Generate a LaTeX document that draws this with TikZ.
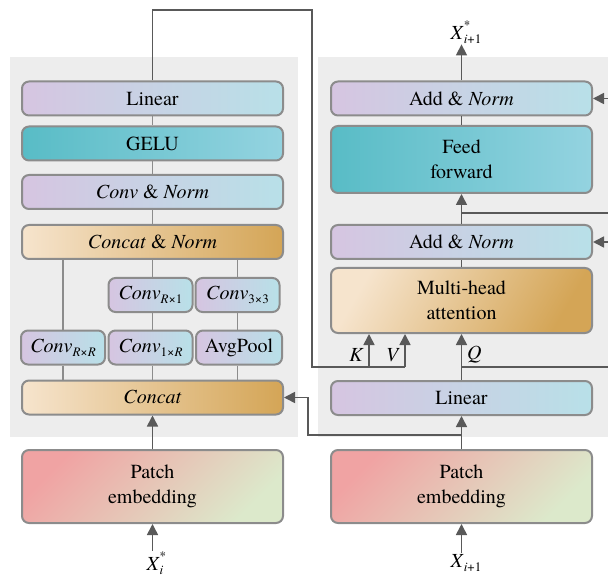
\documentclass[tikz,border=0pt]{standalone}
\usepackage{fontspec}
\setmainfont{texgyretermes}[Extension=.otf,UprightFont=*-regular,ItalicFont=*-italic,BoldFont=*-bold,BoldItalicFont=*-bolditalic]
\usetikzlibrary{arrows.meta,positioning,calc}

\definecolor{panelgray}{HTML}{EDEDED}
\definecolor{boxline}{HTML}{8C8C8C}
\definecolor{wireline}{HTML}{595959}
\definecolor{lilac}{HTML}{D6C5E1}
\definecolor{icecyan}{HTML}{B8E0E8}
\definecolor{tealdark}{HTML}{58BCC6}
\definecolor{teallight}{HTML}{94D3E0}
\definecolor{cream}{HTML}{F6E4CD}
\definecolor{gold}{HTML}{D4A556}
\definecolor{rosy}{HTML}{F0A3A3}
\definecolor{sage}{HTML}{DCE9CB}

\newcommand{\smallidx}{\fontsize{13}{13}\selectfont}
\newcommand{\supsub}[2]{\rlap{\raisebox{1.05ex}{\smallidx #1}}\raisebox{-0.45ex}{\smallidx #2}}

\tikzset{
  blk/.style={draw=boxline,line width=2pt,rounded corners=7pt,inner sep=0pt,
    minimum width=261pt,minimum height=34pt,align=center,
    font=\fontsize{20}{25}\selectfont},
  lilacblk/.style={blk,left color=lilac,right color=icecyan},
  tealblk/.style={blk,left color=tealdark,right color=teallight},
  goldblk/.style={blk,left color=cream,right color=gold},
  patchblk/.style={blk,top color=rosy,bottom color=sage,shading angle=45,minimum height=73pt},
  smallblk/.style={lilacblk,minimum width=84pt},
  link/.style={draw=boxline,line width=1.3pt},
  wire/.style={draw=wireline,line width=1.6pt},
  feed/.style={wire,->},
  lbl/.style={font=\fontsize{20}{25}\selectfont,inner sep=1pt}
}

\begin{document}
\begin{tikzpicture}[x=1pt,y=-1pt,>={Triangle[length=11pt,width=11pt]}]
  \useasboundingbox (0,0) rectangle (608,580);
  \fill[panelgray] (10,57) rectangle (298,437);
  \fill[panelgray] (318,57) rectangle (608,437);

  % left branch
  \node[lilacblk] (linL) at (152.5,98.5) {Linear};
  \node[tealblk] (gelu) at (152.5,143.5) {GELU};
  \node[lilacblk] (convnorm) at (152.5,192) {\textit{Conv} \& \textit{Norm}};
  \node[goldblk] (catnorm) at (152.5,242) {\textit{Concat} \& \textit{Norm}};
  \node[smallblk] (convRx1) at (150.5,295) {\textit{Conv}\raisebox{-0.45ex}{\smallidx\textit{R}×1}};
  \node[smallblk] (conv3x3) at (237.5,295) {\textit{Conv}\raisebox{-0.45ex}{\smallidx 3×3}};
  \node[smallblk] (convRxR) at (63,347.5) {\textit{Conv}\raisebox{-0.45ex}{\smallidx\textit{R}×\textit{R}}};
  \node[smallblk] (conv1xR) at (150.5,347.5) {\textit{Conv}\raisebox{-0.45ex}{\smallidx 1×\textit{R}}};
  \node[smallblk,minimum width=86pt] (avgpool) at (239,347.5) {AvgPool};
  \node[goldblk] (concat) at (152.5,397.5) {\textit{Concat}};
  \node[patchblk] (patchL) at (152.5,486.5) {Patch\\embedding};
  \node[lbl] (xL) at (155,563) {\textit{X}\supsub{*}{\textit{i}}};

  % right branch
  \node[lilacblk] (addtop) at (461.5,98.5) {Add \& \textit{Norm}};
  \node[tealblk,minimum height=67pt] (ffwd) at (461.5,159.5) {Feed\\forward};
  \node[lilacblk] (addlow) at (461.5,242) {Add \& \textit{Norm}};
  \node[goldblk,minimum height=65pt,shading angle=60] (mhatt) at (461.5,300.5) {Multi-head\\attention};
  \node[lilacblk] (linR) at (461.5,398) {Linear};
  \node[patchblk] (patchR) at (461.5,486.5) {Patch\\embedding};
  \node[lbl] (xR) at (466,563) {\textit{X}\raisebox{-0.45ex}{\smallidx\textit{i}+1}};
  \node[lbl] (xout) at (466,32) {\textit{X}\supsub{*}{\textit{i}+1}};

  \coordinate (topL) at (152.5,10);
  \coordinate (topR) at (312,10);
  \coordinate (kvbase) at (312,367);
  \coordinate (kin) at (369,367);
  \coordinate (vin) at (405,367);
  \coordinate (resA) at (608,367);
  \coordinate (resAin) at (608,242);
  \coordinate (resB) at (608,213);
  \coordinate (resBin) at (608,98.5);
  \coordinate (skipL) at (308,435);

  \path[link]
    (linL) edge (gelu)
    (gelu) edge (convnorm)
    (convnorm) edge (catnorm)
    (catnorm.south -| convRxR) edge (convRxR.north)
    (catnorm.south) edge (catnorm.south |- convRx1.north)
    (catnorm.south -| conv3x3) edge (conv3x3.north)
    (convRx1.south -| catnorm) edge (conv1xR.north -| catnorm)
    (conv3x3.south) edge (conv3x3.south |- avgpool.north)
    (convRxR.south) edge (convRxR.south |- concat.north)
    (conv1xR.south -| catnorm) edge (concat.north)
    (avgpool.south -| conv3x3) edge (concat.north -| conv3x3);

  \draw[wire] (linL.north) -- (topL) -- (topR) -- (kvbase) -- (vin);
  \draw[feed] (kin) -- (kin |- mhatt.south);
  \draw[feed] (vin) -- (vin |- mhatt.south);
  \node[lbl,anchor=east] (klbl) at (365,355) {\textit{K}};
  \node[lbl,anchor=east] (vlbl) at (401,355) {\textit{V}};
  \node[lbl,anchor=west] (qlbl) at (466,355) {\textit{Q}};

  \draw[wire] (linR.north |- kvbase) -- (resA);
  \draw[feed] (resAin) -- (addlow.east);
  \draw[wire] (ffwd.south |- resB) -- (resB);
  \draw[feed] (resBin) -- (addtop.east);
  \draw[feed] (linR.south |- skipL) -- (skipL) |- (concat.east);

  \draw[feed] (patchL.south |- xL.north) -- (patchL.south);
  \draw[feed] (patchL) -- (concat);
  \draw[feed] (patchR.south |- xR.north) -- (patchR.south);
  \draw[feed] (patchR) -- (linR);
  \draw[feed] (linR) -- (mhatt);
  \draw[wire] (mhatt) -- (addlow);
  \draw[feed] (addlow) -- (ffwd);
  \draw[wire] (ffwd) -- (addtop);
  \draw[feed] (addtop.north) -- (addtop.north |- xout.south);
\end{tikzpicture}
\end{document}
